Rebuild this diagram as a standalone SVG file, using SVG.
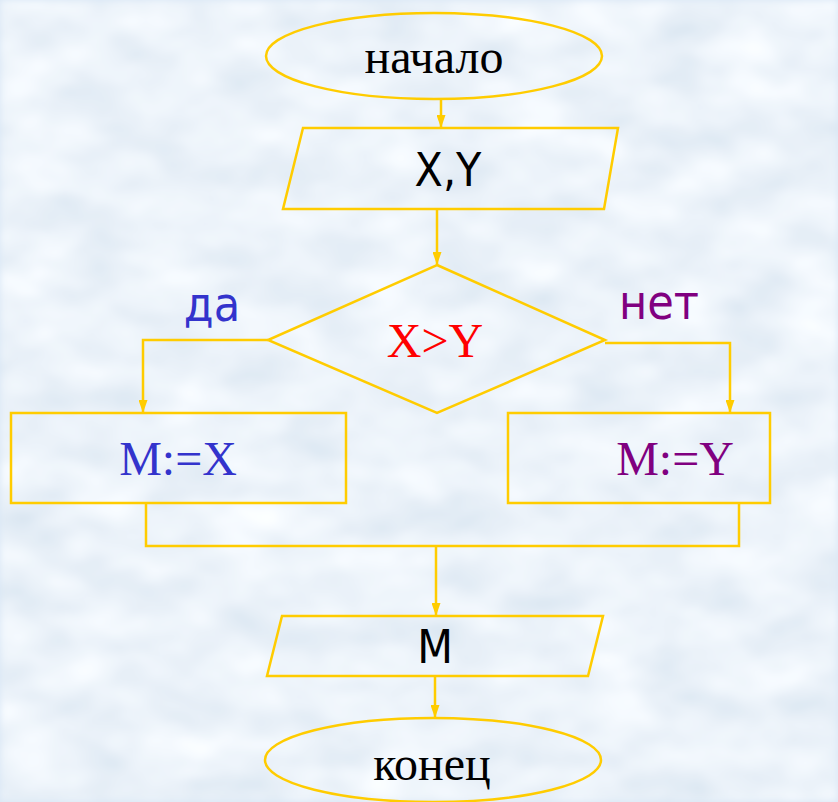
<svg xmlns="http://www.w3.org/2000/svg" width="838" height="802" viewBox="0 0 838 802">
  <defs>
    <filter id="clouds" x="0" y="0" width="100%" height="100%" filterUnits="userSpaceOnUse">
      <feTurbulence type="fractalNoise" baseFrequency="0.014 0.026" numOctaves="3" seed="7" result="n"/>
      <feColorMatrix in="n" type="matrix" values="0.35 0 0 0 0.665  0.27 0 0 0 0.762  0.19 0 0 0 0.86  0 0 0 0 1" result="c"/>
      <feGaussianBlur in="c" stdDeviation="3.5"/>
    </filter>
    <marker id="tip" markerUnits="userSpaceOnUse" markerWidth="13" markerHeight="9" refX="13" refY="4.5" orient="auto" viewBox="0 0 13 9">
      <path d="M0,0 L13,4.5 L0,9 z" fill="#ffcc00"/>
    </marker>
  </defs>
  <style>
    .shape { fill: none; stroke: #ffcc00; stroke-width: 2.5; }
    .link { fill: none; stroke: #ffcc00; stroke-width: 2.5; }
    .arr { marker-end: url(#tip); }
    .serif { font-family: "Liberation Serif", "Times New Roman", serif; font-size: 48px; text-anchor: middle; }
    .sans { font-family: "DejaVu Sans Condensed", "DejaVu Sans", sans-serif; font-stretch: condensed; text-anchor: middle; }
  </style>

  <!-- background -->
  <rect x="0" y="0" width="838" height="802" fill="#d8e6f5"/>
  <rect x="0" y="0" width="838" height="802" filter="url(#clouds)"/>

  <!-- connectors -->
  <g id="connectors">
    <path class="link arr" d="M441,99 L441,128"/>
    <path class="link arr" d="M437,209 L437,265"/>
    <path class="link arr" d="M268,340 L143,340 L143,413"/>
    <path class="link arr" d="M605,343 L730,343 L730,413"/>
    <path class="link" d="M146,503 L146,546 L739,546 L739,503"/>
    <path class="link arr" d="M436,546 L436,616"/>
    <path class="link arr" d="M435,676 L435,718"/>
  </g>

  <!-- branch labels -->
  <text class="sans" x="212" y="321" font-size="48" fill="#3333cc">да</text>
  <text class="sans" x="659" y="319" font-size="48" fill="#800080">нет</text>

  <g id="start">
    <ellipse class="shape" cx="434" cy="56" rx="168" ry="43"/>
    <text class="serif" x="434" y="73" fill="#000000">начало</text>
  </g>

  <g id="input">
    <polygon class="shape" points="303,128 618,128 604,209 283,209"/>
    <text class="sans" x="448" y="186" font-size="46" fill="#000000">X,Y</text>
  </g>

  <g id="decision">
    <polygon class="shape" points="437,265 605,340 437,413 268,340"/>
    <text class="serif" x="435" y="357" fill="#ff0000">X&gt;Y</text>
  </g>

  <g id="assign-x">
    <rect class="shape" x="11" y="413" width="335" height="90"/>
    <text class="serif" x="178" y="475" fill="#3333cc">M:=X</text>
  </g>

  <g id="assign-y">
    <rect class="shape" x="508" y="413" width="262" height="90"/>
    <text class="serif" x="675" y="475" fill="#800080">M:=Y</text>
  </g>

  <g id="output">
    <polygon class="shape" points="282,616 603,616 588,676 267,676"/>
    <text class="sans" x="435" y="663" font-size="46" fill="#000000">M</text>
  </g>

  <g id="end">
    <ellipse class="shape" cx="433" cy="760" rx="168" ry="42"/>
    <text class="serif" x="432" y="780" fill="#000000">конец</text>
  </g>
</svg>
